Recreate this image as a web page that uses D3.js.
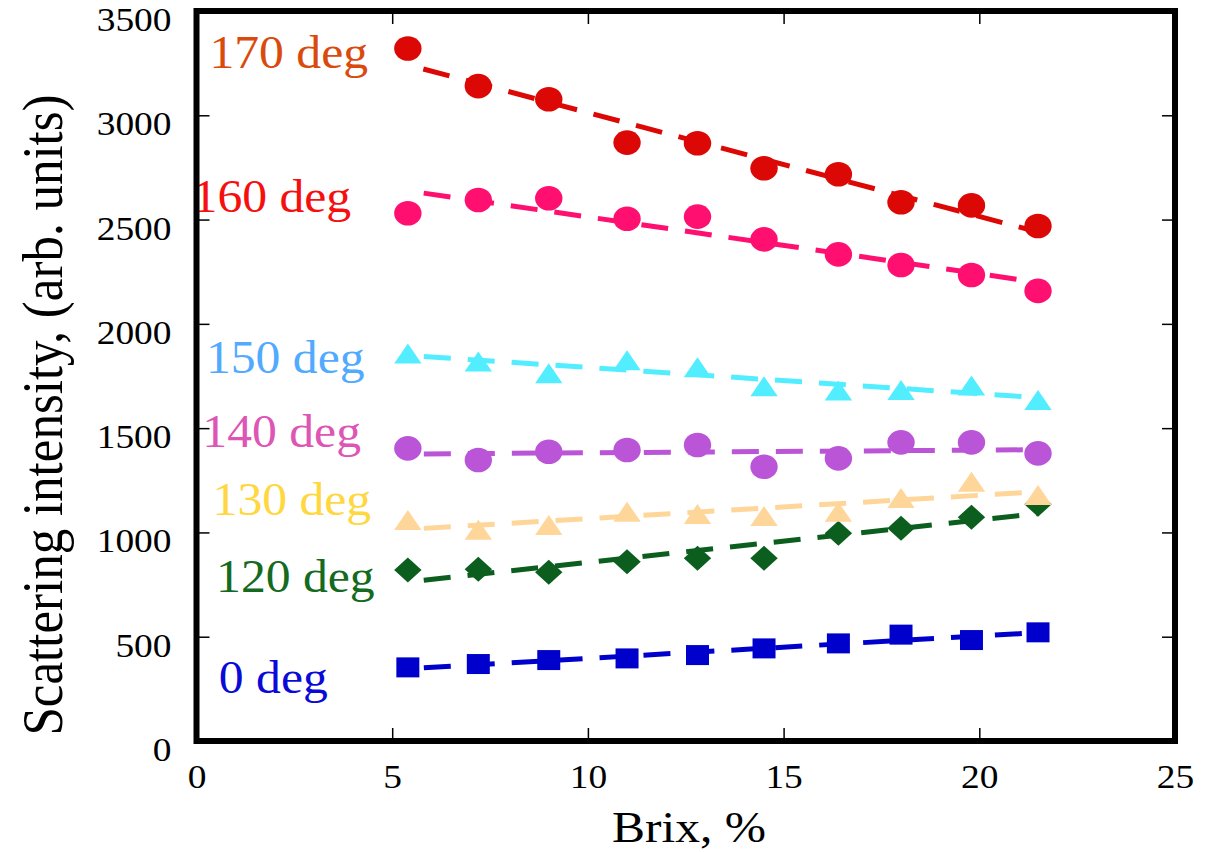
<!DOCTYPE html>
<html>
<head>
<meta charset="utf-8">
<script src="https://cdn.jsdelivr.net/npm/d3@7"></script>
<style>
  body { margin: 0; background: #fff; }
  svg { display: block; }
</style>
</head>
<body>
<div id="container"></div>
<script>
// Data
const brix = [5.4, 7.2, 9.0, 11.0, 12.8, 14.5, 16.4, 18.0, 19.8, 21.5];
const angles = ["0 deg", "120 deg", "130 deg", "140 deg", "150 deg", "160 deg", "170 deg"];
const deg0   = [353, 369, 388, 396, 412, 444, 468, 510, 484, 521];
const deg120 = [820, 823, 809, 860, 876, 876, 996, 1020, 1073, 1135];
const deg130 = [1060, 1013, 1036, 1099, 1088, 1079, 1099, 1165, 1243, 1179];
const deg140 = [1403, 1347, 1387, 1395, 1419, 1315, 1355, 1432, 1432, 1379];
const deg150 = [1858, 1819, 1763, 1825, 1792, 1701, 1681, 1683, 1704, 1635];
const deg160 = [2530, 2594, 2602, 2504, 2514, 2405, 2333, 2282, 2234, 2158];
const deg170 = [3320, 3140, 3077, 2869, 2866, 2746, 2717, 2583, 2568, 2469];
const xTicks = [0, 5, 10, 15, 20, 25];
const yTicks = [0, 500, 1000, 1500, 2000, 2500, 3000, 3500];

const values = [deg0, deg120, deg130, deg140, deg150, deg160, deg170];

// Styles (one per angle, same order)
const markColor  = ["#0000cc", "#0b5e1e", "#ffd699", "#bb55d8", "#52eeff", "#ff1070", "#dc0805"];
const labelColor = ["#0a0ad8", "#146a1e", "#ffd740", "#dd55b5", "#52aaff", "#f50f0f", "#d94a0c"];
const shapes     = ["square", "diamond", "triangle", "circle", "triangle", "circle", "circle"];
// label anchors in data units (brix, intensity at baseline)
const labelAt = [[0.57, 230], [0.50, 716], [0.41, 1084], [0.15, 1411], [0.24, 1763], [-0.10, 2538], [0.33, 3225]];

const W = 1218, H = 852;
const font = "'Liberation Serif', 'Times New Roman', serif";
const sx = 1.08;

const x = d3.scaleLinear().domain([0, 25]).range([196.5, 1175]);
const y = d3.scaleLinear().domain([0, 3500]).range([741, 11]);

const svg = d3.select("#container").append("svg")
  .attr("width", W).attr("height", H);

svg.append("rect").attr("width", W).attr("height", H).attr("fill", "#fff");

function markPath(shape) {
  if (shape === "circle") return "M-13.7,0A13.7,12.3 0 1,0 13.7,0A13.7,12.3 0 1,0 -13.7,0Z";
  if (shape === "triangle") return "M0,-10L13.7,10L-13.7,10Z";
  if (shape === "diamond") return "M0,-12.5L13.7,0L0,12.5L-13.7,0Z";
  return "M-11.5,-10H11.5V10H-11.5Z";
}

// least squares fit for the dashed lines
function fit(xs, ys) {
  const mx = d3.mean(xs), my = d3.mean(ys);
  const b = d3.sum(xs, (v, i) => (v - mx) * (ys[i] - my)) / d3.sum(xs, v => (v - mx) * (v - mx));
  return v => my + b * (v - mx);
}

const line = d3.line().x(d => x(d[0])).y(d => y(d[1]));

angles.forEach((name, k) => {
  const ys = values[k];
  const f = fit(brix, ys);
  const x0 = brix[0], x1 = brix[brix.length - 1];
  const g = svg.append("g");

  g.append("path")
    .attr("d", line([[x0, f(x0)], [x1, f(x1)]]))
    .attr("fill", "none")
    .attr("stroke", markColor[k])
    .attr("stroke-width", 5)
    .attr("stroke-dasharray", "27,17")
    .attr("stroke-dashoffset", 28);

  g.selectAll(".pt")
    .data(brix.map((b, i) => [b, ys[i]]))
    .enter()
    .append("path")
    .attr("class", "pt")
    .attr("d", markPath(shapes[k]))
    .attr("transform", d => "translate(" + x(d[0]) + "," + y(d[1]) + ")")
    .attr("fill", markColor[k]);

  svg.append("text")
    .attr("transform", "translate(" + x(labelAt[k][0]) + "," + y(labelAt[k][1]) + ") scale(" + sx + ",1)")
    .attr("font-family", font)
    .attr("font-size", 46)
    .attr("fill", labelColor[k])
    .text(name);
});

// Axes: ticks point inward on all four sides
const gx = svg.append("g")
  .attr("transform", "translate(0," + y(0) + ")")
  .call(d3.axisBottom(x).tickValues(xTicks).tickSize(-13).tickFormat(d3.format("d")));
const gy = svg.append("g")
  .attr("transform", "translate(" + x(0) + ",0)")
  .call(d3.axisLeft(y).tickValues(yTicks).tickSize(-13).tickFormat(d3.format("d")));
svg.append("g")
  .attr("transform", "translate(0," + y(3500) + ")")
  .call(d3.axisTop(x).tickValues(xTicks).tickSize(-13).tickFormat(""));
svg.append("g")
  .attr("transform", "translate(" + x(25) + ",0)")
  .call(d3.axisRight(y).tickValues(yTicks).tickSize(-13).tickFormat(""));

svg.selectAll(".domain").remove();
svg.selectAll(".tick line").attr("stroke", "#000").attr("stroke-width", 1.5);

gx.selectAll(".tick text")
  .attr("y", 0).attr("dy", 0)
  .attr("transform", "translate(0,47) scale(1.1,1)");
gy.selectAll(".tick text")
  .attr("x", 0).attr("dy", 0)
  .attr("transform", "translate(-25,19.5) scale(1.1,1)");
[gx, gy].forEach(g => g
  .attr("font-family", font)
  .attr("font-size", 34)
  .selectAll("text").attr("fill", "#000"));

// Frame
svg.append("rect")
  .attr("x", x(0)).attr("y", y(3500))
  .attr("width", x(25) - x(0)).attr("height", y(0) - y(3500))
  .attr("fill", "none")
  .attr("stroke", "#000")
  .attr("stroke-width", 6);

// Axis titles
svg.append("text")
  .attr("transform", "translate(689,842) scale(1.1,1)")
  .attr("text-anchor", "middle")
  .attr("font-family", font)
  .attr("font-size", 45)
  .text("Brix, %");

svg.append("text")
  .attr("transform", "translate(62,415) scale(1.1,1) rotate(-90)")
  .attr("text-anchor", "middle")
  .attr("font-family", font)
  .attr("font-size", 51)
  .text("Scattering intensity, (arb. units)");
</script>
</body>
</html>
